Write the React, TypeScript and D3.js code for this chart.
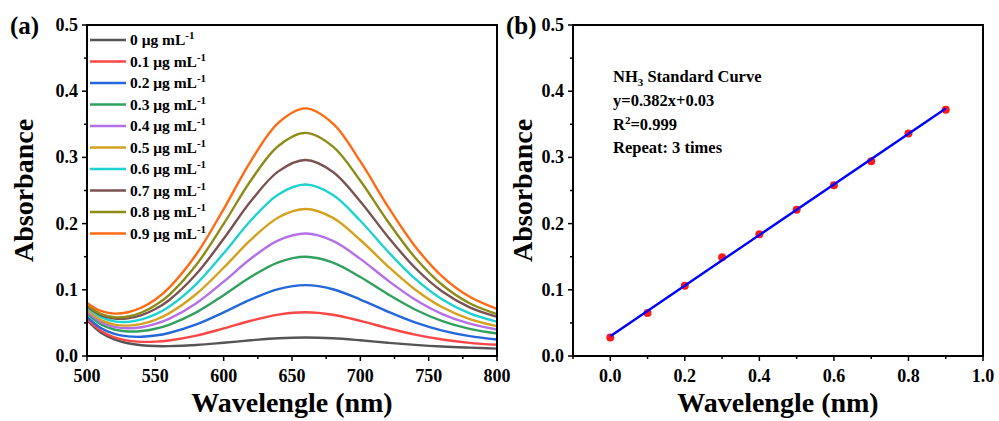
import React from 'react';
import * as d3 from 'd3';

// ---------- data ----------
const wavelengths = [500, 510, 520, 530, 540, 550, 560, 580, 600, 620, 640, 660, 680, 700, 720, 740, 760, 780, 800];

const concLabels = ['0', '0.1', '0.2', '0.3', '0.4', '0.5', '0.6', '0.7', '0.8', '0.9'];

const abs00 = [0.054, 0.0355, 0.0251, 0.0193, 0.0163, 0.0150, 0.0149, 0.0166, 0.0200, 0.0237, 0.0268, 0.028, 0.0268, 0.0237, 0.0200, 0.0168, 0.0143, 0.0126, 0.0112];
const abs01 = [0.056, 0.0381, 0.0282, 0.0233, 0.0214, 0.0217, 0.0235, 0.0308, 0.0416, 0.0532, 0.0625, 0.066, 0.0623, 0.0530, 0.0421, 0.0323, 0.0249, 0.0199, 0.0170];
const abs02 = [0.059, 0.0423, 0.0335, 0.0296, 0.0290, 0.0309, 0.0348, 0.0478, 0.0660, 0.0856, 0.1011, 0.107, 0.1008, 0.0853, 0.0671, 0.0507, 0.0383, 0.0300, 0.0250];
const abs03 = [0.064, 0.0480, 0.0400, 0.0371, 0.0377, 0.0412, 0.0472, 0.0659, 0.0919, 0.1197, 0.1416, 0.150, 0.1412, 0.1193, 0.0935, 0.0703, 0.0527, 0.0410, 0.0340];
const abs04 = [0.067, 0.0516, 0.0441, 0.0420, 0.0435, 0.0484, 0.0561, 0.0798, 0.1123, 0.1472, 0.1746, 0.185, 0.1740, 0.1467, 0.1144, 0.0854, 0.0634, 0.0488, 0.0400];
const abs05 = [0.070, 0.0546, 0.0474, 0.0459, 0.0485, 0.0547, 0.0644, 0.0936, 0.1333, 0.1758, 0.2093, 0.222, 0.2086, 0.1752, 0.1359, 0.1005, 0.0736, 0.0558, 0.0451];
const abs06 = [0.074, 0.0590, 0.0524, 0.0516, 0.0553, 0.0629, 0.0744, 0.1087, 0.1552, 0.2050, 0.2441, 0.259, 0.2433, 0.2043, 0.1582, 0.1168, 0.0854, 0.0645, 0.0520];
const abs07 = [0.075, 0.0618, 0.0565, 0.0569, 0.0618, 0.0709, 0.0843, 0.1238, 0.1771, 0.2341, 0.2789, 0.296, 0.2780, 0.2334, 0.1806, 0.1333, 0.0973, 0.0734, 0.0591];
const abs08 = [0.077, 0.0636, 0.0586, 0.0596, 0.0657, 0.0765, 0.0921, 0.1378, 0.1995, 0.2655, 0.3173, 0.337, 0.3162, 0.2646, 0.2036, 0.1488, 0.1072, 0.0796, 0.0631];
const abs09 = [0.080, 0.0680, 0.0640, 0.0661, 0.0733, 0.0855, 0.1030, 0.1537, 0.2220, 0.2949, 0.3522, 0.374, 0.3510, 0.2939, 0.2265, 0.1659, 0.1199, 0.0894, 0.0711];

const spectra = [abs00, abs01, abs02, abs03, abs04, abs05, abs06, abs07, abs08, abs09];
const colors = ['#555555', '#fa4646', '#2468dc', '#32a05f', '#b470e6', '#d4a21e', '#1ed2d2', '#7a5252', '#8c8c16', '#ff6a12'];

const stdConc = [0, 0.1, 0.2, 0.3, 0.4, 0.5, 0.6, 0.7, 0.8, 0.9];
const stdAbs = [0.028, 0.065, 0.106, 0.149, 0.184, 0.221, 0.258, 0.294, 0.336, 0.372];
const fitSlope = 0.382;
const fitIntercept = 0.03;

const yTicks = [0, 0.1, 0.2, 0.3, 0.4, 0.5];
const yMinor = [0.05, 0.15, 0.25, 0.35, 0.45];
const xTicksA = [500, 550, 600, 650, 700, 750, 800];
const xMinorA = [525, 575, 625, 675, 725, 775];
const xTicksB = [0, 0.2, 0.4, 0.6, 0.8, 1.0];
const xMinorB = [-0.1, 0.1, 0.3, 0.5, 0.7, 0.9];

// ---------- layout ----------
const FONT = '"Liberation Serif", "Times New Roman", serif';
const TOP = 25;
const BOTTOM = 356;

const xA = d3.scaleLinear().domain([500, 800]).range([87, 497]);
const yA = d3.scaleLinear().domain([0, 0.5]).range([BOTTOM, TOP]);
const xB = d3.scaleLinear().domain([-0.1, 1.0]).range([573, 983]);
const yB = d3.scaleLinear().domain([0, 0.5]).range([BOTTOM, TOP]);

function Axes({ x, y, xt, xm, yt, ym, xfmt }: any) {
  const [x0, x1] = x.range();
  const tickFont = { fontFamily: FONT, fontWeight: 'bold', fontSize: 18 } as any;
  return (
    <g>
      {yt.map((v: number) => (
        <g key={'yt' + v}>
          <line x1={x0 - 5} x2={x0} y1={y(v)} y2={y(v)} stroke="#000" strokeWidth={1.5} />
          <text x={x0 - 9} y={y(v) + 6} textAnchor="end" style={tickFont}>{v.toFixed(1)}</text>
        </g>
      ))}
      {ym.map((v: number) => (
        <line key={'ym' + v} x1={x0 - 3} x2={x0} y1={y(v)} y2={y(v)} stroke="#000" strokeWidth={1.5} />
      ))}
      {xt.map((v: number) => (
        <g key={'xt' + v}>
          <line x1={x(v)} x2={x(v)} y1={BOTTOM} y2={BOTTOM + 5} stroke="#000" strokeWidth={1.5} />
          <text x={x(v)} y={BOTTOM + 26} textAnchor="middle" style={tickFont}>{xfmt(v)}</text>
        </g>
      ))}
      {xm.map((v: number) => (
        <line key={'xm' + v} x1={x(v)} x2={x(v)} y1={BOTTOM} y2={BOTTOM + 3} stroke="#000" strokeWidth={1.5} />
      ))}
      <rect x={x0} y={TOP} width={x1 - x0} height={BOTTOM - TOP} fill="none" stroke="#000" strokeWidth={2} />
      <text x={(x0 + x1) / 2} y={412} textAnchor="middle"
        style={{ fontFamily: FONT, fontWeight: 'bold', fontSize: 28 }}>Wavelengle (nm)</text>
    </g>
  );
}

export default function App() {
  const line = d3.line<number>()
    .x((_, i) => xA(wavelengths[i]))
    .y((d) => yA(d))
    .curve(d3.curveCatmullRom.alpha(0.5));

  const legendX0 = 90;
  const legendY0 = 40;
  const legendDy = 21.5;

  return (
    <svg width={999} height={421} style={{ position: 'absolute', left: 0, top: 0, background: '#fff' }}>
      <rect x={0} y={0} width={999} height={421} fill="#fff" />

      {/* Panel (a) */}
      <text x={10} y={34} style={{ fontFamily: FONT, fontWeight: 'bold', fontSize: 25 }}>(a)</text>
      <text transform={`translate(33, 190.5) rotate(-90)`} textAnchor="middle"
        style={{ fontFamily: FONT, fontWeight: 'bold', fontSize: 28 }}>Absorbance</text>
      <g>
        {spectra.map((s, i) => (
          <path key={i} d={line(s) || ''} fill="none" stroke={colors[i]} strokeWidth={2.4} />
        ))}
      </g>
      <g>
        {concLabels.map((c, i) => (
          <g key={c}>
            <line x1={legendX0} x2={legendX0 + 36} y1={legendY0 + i * legendDy} y2={legendY0 + i * legendDy}
              stroke={colors[i]} strokeWidth={2.4} />
            <text x={legendX0 + 40} y={legendY0 + i * legendDy + 5}
              style={{ fontFamily: FONT, fontWeight: 'bold', fontSize: 15.5 }}>
              {c} μg mL<tspan dy={-6} fontSize={11}>-1</tspan>
            </text>
          </g>
        ))}
      </g>
      <Axes x={xA} y={yA} xt={xTicksA} xm={xMinorA} yt={yTicks} ym={yMinor} xfmt={(v: number) => String(v)} />

      {/* Panel (b) */}
      <text x={506} y={34} style={{ fontFamily: FONT, fontWeight: 'bold', fontSize: 25 }}>(b)</text>
      <text transform={`translate(532, 190.5) rotate(-90)`} textAnchor="middle"
        style={{ fontFamily: FONT, fontWeight: 'bold', fontSize: 28 }}>Absorbance</text>
      <g>
        {stdConc.map((c, i) => (
          <circle key={i} cx={xB(c)} cy={yB(stdAbs[i])} r={4} fill="#ff1a1a" />
        ))}
        <line x1={xB(stdConc[0])} y1={yB(fitSlope * stdConc[0] + fitIntercept)}
          x2={xB(stdConc[stdConc.length - 1])} y2={yB(fitSlope * stdConc[stdConc.length - 1] + fitIntercept)}
          stroke="#0000ff" strokeWidth={2.4} />
      </g>
      <g style={{ fontFamily: FONT, fontWeight: 'bold', fontSize: 16.5 } as any}>
        <text x={613} y={82}>NH<tspan dy={4} fontSize={11}>3</tspan><tspan dy={-4}> Standard Curve</tspan></text>
        <text x={613} y={106}>y=0.382x+0.03</text>
        <text x={613} y={130}>R<tspan dy={-6} fontSize={11}>2</tspan><tspan dy={6}>=0.999</tspan></text>
        <text x={613} y={153}>Repeat: 3 times</text>
      </g>
      <Axes x={xB} y={yB} xt={xTicksB} xm={xMinorB} yt={yTicks} ym={yMinor} xfmt={(v: number) => v.toFixed(1)} />
    </svg>
  );
}
